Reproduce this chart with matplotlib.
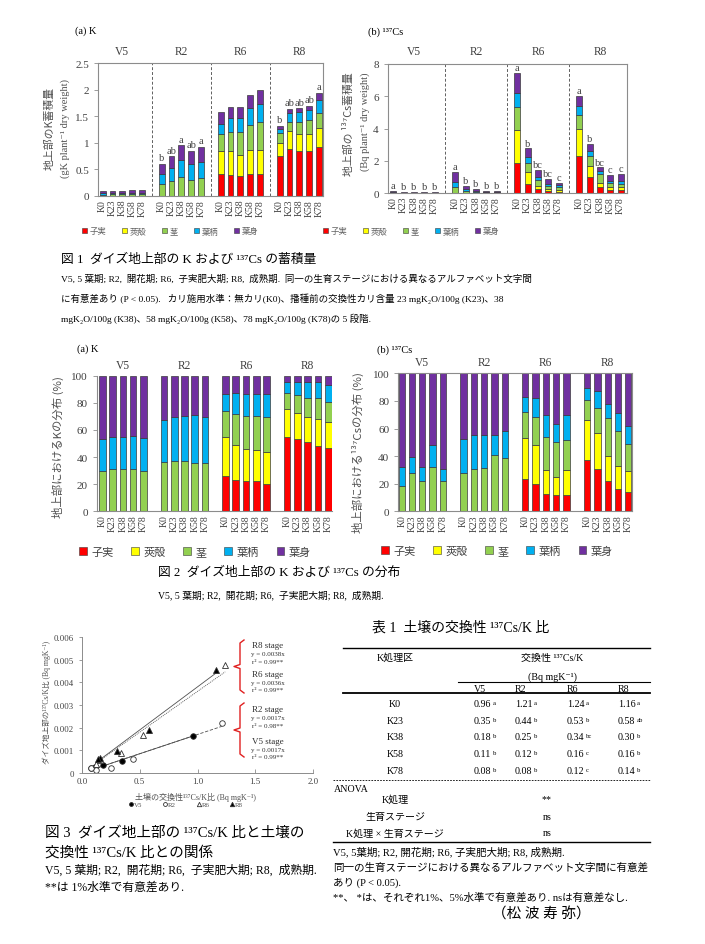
import numpy as np
import matplotlib
matplotlib.use('Agg')
import matplotlib.pyplot as plt
from matplotlib.patches import Patch
from matplotlib.lines import Line2D

SERIF = ['Liberation Serif', 'Noto Sans CJK JP', 'DejaVu Sans']
SANS = ['Noto Sans CJK JP', 'DejaVu Sans']
plt.rcParams['font.family'] = SERIF
plt.rcParams['axes.unicode_minus'] = False

# ---------------- data ----------------
stages = ['V5', 'R2', 'R6', 'R8']
treatments = ['K0', 'K23', 'K38', 'K58', 'K78']
parts = ['子実', '莢殻', '茎', '葉柄', '葉身']
part_colors = ['#FF0000', '#FFFF00', '#92D050', '#00B0F0', '#7030A0']

# Fig.1(a) K accumulation (gK plant-1), order V5(K0..K78), R2, R6, R8
k_seed    = [0, 0, 0, 0, 0,  0, 0, 0, 0, 0,  0.41, 0.40, 0.385, 0.42, 0.41,  0.75, 0.875, 0.845, 0.845, 0.925]
k_hull    = [0, 0, 0, 0, 0,  0, 0, 0, 0, 0,  0.44, 0.44, 0.395, 0.44, 0.46,  0.25, 0.34, 0.315, 0.325, 0.345]
k_stem    = [0.027, 0.032, 0.032, 0.034, 0.033,  0.23, 0.28, 0.36, 0.30, 0.34,  0.32, 0.37, 0.42, 0.48, 0.53,  0.18, 0.185, 0.225, 0.25, 0.285]
k_petiole = [0.021, 0.023, 0.023, 0.027, 0.026,  0.18, 0.25, 0.32, 0.31, 0.30,  0.19, 0.25, 0.26, 0.31, 0.32,  0.08, 0.155, 0.19, 0.205, 0.255]
k_blade   = [0.042, 0.045, 0.045, 0.049, 0.051,  0.20, 0.22, 0.27, 0.24, 0.29,  0.21, 0.21, 0.21, 0.24, 0.28,  0.06, 0.085, 0.075, 0.075, 0.13]
k_letters = ['', '', '', '', '',  'b', 'ab', 'a', 'ab', 'a',  '', '', '', '', '',  'b', 'ab', 'ab', 'ab', 'a']

# Fig.1(b) 137Cs accumulation (Bq plant-1)
cs_seed    = [0, 0, 0, 0, 0,  0, 0, 0, 0, 0,  1.84, 0.56, 0.25, 0.10, 0.08,  2.31, 0.97, 0.35, 0.19, 0.19]
cs_hull    = [0, 0, 0, 0, 0,  0, 0, 0, 0, 0,  2.06, 0.72, 0.20, 0.12, 0.11,  1.69, 0.72, 0.27, 0.16, 0.20]
cs_stem    = [0.03, 0.012, 0.012, 0.012, 0.012,  0.35, 0.14, 0.08, 0.06, 0.06,  1.41, 0.58, 0.35, 0.23, 0.16,  0.86, 0.58, 0.56, 0.27, 0.17]
cs_petiole = [0.02, 0.006, 0.006, 0.006, 0.006,  0.31, 0.11, 0.06, 0.02, 0.03,  0.89, 0.39, 0.21, 0.11, 0.12,  0.51, 0.35, 0.20, 0.14, 0.16]
cs_blade   = [0.10, 0.032, 0.032, 0.032, 0.032,  0.66, 0.20, 0.11, 0.07, 0.06,  1.24, 0.52, 0.44, 0.31, 0.15,  0.63, 0.42, 0.21, 0.34, 0.48]
cs_letters = ['a', 'b', 'b', 'b', 'b',  'a', 'b', 'b', 'b', 'b',  'a', 'b', 'bc', 'bc', 'c',  'a', 'b', 'bc', 'c', 'c']

# Fig.2(a) K distribution (%)
kp_seed    = [0, 0, 0, 0, 0,  0, 0, 0, 0, 0,  26, 23, 22, 22, 20,  55, 53.5, 51, 48.5, 47]
kp_hull    = [0, 0, 0, 0, 0,  0, 0, 0, 0, 0,  28.5, 26, 24, 23, 24,  20.5, 19, 18.5, 19.5, 19]
kp_stem    = [30, 31.5, 31.5, 31, 30,  36, 37, 37, 35.5, 35.5,  19.5, 23, 24.5, 25.5, 25.5,  11.5, 13.5, 14, 15.5, 14.5]
kp_petiole = [23.5, 23.5, 23.5, 24.5, 24,  31, 32.5, 33, 35.5, 34,  12.5, 15, 16, 16, 17,  8, 9, 11.5, 11.5, 13]
kp_blade   = [46.5, 45, 45, 44.5, 46,  33, 30.5, 30, 29, 30.5,  13.5, 13, 13.5, 13.5, 13.5,  5, 5, 5, 5, 6.5]

# Fig.2(b) 137Cs distribution (%)
csp_seed    = [0, 0, 0, 0, 0,  0, 0, 0, 0, 0,  23.5, 20, 12.5, 11.5, 11.5,  37.5, 30.5, 22, 16.5, 14]
csp_hull    = [0, 0, 0, 0, 0,  0, 0, 0, 0, 0,  29.5, 28, 17.5, 13.5, 18.5,  29, 26, 18, 16, 15.5]
csp_stem    = [18.5, 27.5, 22, 32, 22,  28, 31, 31.5, 40.5, 38.5,  19, 20, 24, 25.5, 22,  14.5, 18.5, 27.5, 25.5, 19]
csp_petiole = [13.5, 11.5, 10, 16, 9,  24.5, 24, 23.5, 15, 19.5,  11, 14, 15.5, 13, 18,  8.5, 12, 10.5, 13, 13]
csp_blade   = [68, 61, 68, 52, 69,  47.5, 45, 45, 44.5, 42,  17, 18, 30.5, 36.5, 30,  10.5, 13, 22, 29, 38.5]

# Table 1: soil exchangeable 137Cs/K (Bq mgK-1)
soil_V5 = [0.96, 0.35, 0.18, 0.11, 0.08]
soil_R2 = [1.21, 0.44, 0.25, 0.12, 0.08]
soil_R6 = [1.24, 0.53, 0.34, 0.16, 0.12]
soil_R8 = [1.16, 0.58, 0.30, 0.16, 0.14]
let_V5 = ['a', 'b', 'b', 'b', 'b']
let_R2 = ['a', 'b', 'b', 'b', 'b']
let_R6 = ['a', 'b', 'bc', 'c', 'c']
let_R8 = ['a', 'ab', 'b', 'b', 'b']
anova_terms = ['K処理', '生育ステージ', 'K処理 × 生育ステージ']
anova_sig = ['**', 'ns', 'ns']

# Fig.3: plant 137Cs/K (Bq mgK-1)
plant_V5 = [0.00162, 0.00052, 0.00034, 0.00028, 0.00020]
plant_R2 = [0.00220, 0.00060, 0.00024, 0.00013, 0.00020]
plant_R6 = [0.00476, 0.00167, 0.00087, 0.00058, 0.00040]
plant_R8 = [0.00455, 0.00189, 0.00096, 0.00065, 0.00060]
slopes = {'V5': 0.0017, 'R2': 0.0017, 'R6': 0.0036, 'R8': 0.0038}
r2 = {'V5': '0.99**', 'R2': '0.98**', 'R6': '0.99**', 'R8': '0.99**'}

# ---------------- figure ----------------
W, H = 705, 945
fig = plt.figure(figsize=(W / 100, H / 100), dpi=100)
TXT = '#404040'


def fx(x):
    return x / W


def fy(y):
    return 1 - y / H


def rect(l, t, r, b):
    return [fx(l), fy(b), (r - l) / W, (b - t) / H]


def ftext(x, y, s, size=7, ha='left', va='center', family=SERIF, **kw):
    fig.text(fx(x), fy(y), s, fontsize=size, ha=ha, va=va, family=family, **kw)


def hline(x0, x1, y, lw=0.8, ls='-', color='black'):
    fig.add_artist(Line2D([fx(x0), fx(x1)], [fy(y), fy(y)], transform=fig.transFigure,
                          lw=lw, ls=ls, color=color))


xpos = np.array([g * 6 + i for g in range(4) for i in range(5)])


def stacked(ax, series, width):
    bottom = np.zeros(len(xpos))
    for vals, c in zip(series, part_colors):
        v = np.array(vals, dtype=float)
        ax.bar(xpos, v, width, bottom=bottom, color=c, edgecolor='#3a3a3a', linewidth=0.5)
        bottom += v
    return bottom


def style_axes(ax, box=True):
    for s in ax.spines.values():
        s.set_color('#8c8c8c')
        s.set_linewidth(0.8)
    if not box:
        ax.spines['top'].set_visible(False)
        ax.spines['right'].set_visible(False)
    ax.set_xticks(xpos)
    ax.set_xticklabels(treatments * 4, rotation=90, fontsize=7, color=TXT)
    ax.tick_params(axis='x', length=0, pad=2)
    ax.tick_params(axis='y', length=3, width=0.6, color='#8c8c8c', labelsize=8, labelcolor=TXT)


def stage_labels(ax, yfrac):
    tr = ax.get_xaxis_transform()
    for g, s in enumerate(stages):
        ax.text(g * 6 + 2, yfrac, s, transform=tr, ha='center', va='center', fontsize=8.3, color=TXT)


legend_handles = [Patch(facecolor=c, edgecolor='#3a3a3a', linewidth=0.4) for c in part_colors]

# ---- Fig 1(a) ----
ax1 = fig.add_axes(rect(98.3, 64, 323.3, 197))
tot = stacked(ax1, [k_seed, k_hull, k_stem, k_petiole, k_blade], 0.6)
ax1.set_xlim(-0.44, 22.44)
ax1.set_ylim(0, 2.5)
ax1.set_yticks([0, 0.5, 1, 1.5, 2, 2.5])
ax1.set_yticklabels(['0', '0.5', '1', '1.5', '2', '2.5'])
style_axes(ax1)
for xv in [5, 11, 17]:
    ax1.axvline(xv, color='#606060', ls=(0, (3, 2)), lw=0.7)
for x, t, l in zip(xpos, tot, k_letters):
    if l:
        ax1.text(x, t + 0.03, l, ha='center', va='bottom', fontsize=7.5, color=TXT)
stage_labels(ax1, 1.09)
ftext(75, 31, '(a) K', 7.5)
ftext(50, 128, '地上部のK蓄積量', 7.8, ha='center', family=SANS, rotation=90, color='#505050')
ftext(65, 128, '(gK plant⁻¹ dry weight)', 7.5, ha='center', rotation=90, color='#505050')

# ---- Fig 1(b) ----
ax2 = fig.add_axes(rect(387.7, 65, 626.7, 194))
tot = stacked(ax2, [cs_seed, cs_hull, cs_stem, cs_petiole, cs_blade], 0.6)
ax2.set_xlim(-0.54, 22.59)
ax2.set_ylim(0, 8)
ax2.set_yticks([0, 2, 4, 6, 8])
style_axes(ax2)
for xv in [5, 11, 17]:
    ax2.axvline(xv, color='#606060', ls=(0, (3, 2)), lw=0.7)
for x, t, l in zip(xpos, tot, cs_letters):
    if l:
        ax2.text(x, t + 0.05, l, ha='center', va='bottom', fontsize=7.5, color=TXT)
stage_labels(ax2, 1.10)
ftext(368, 32, '(b) ¹³⁷Cs', 7.5)
ftext(348, 124, '地上部の ¹³⁷Cs蓄積量', 7.8, ha='center', family=SANS, rotation=90, color='#505050')
ftext(365, 122, '(Bq plant⁻¹ dry weight)', 7.5, ha='center', rotation=90, color='#505050')

# legends fig 1
for cx in [170, 411]:
    fig.legend(legend_handles, parts, loc='center', bbox_to_anchor=(fx(cx), fy(232)), ncol=5,
               frameon=False, prop={'family': SANS, 'size': 6}, handlelength=0.6, handleheight=0.6,
               handletextpad=0.3, columnspacing=1.9, labelcolor='#606060', borderaxespad=0, borderpad=0)

# Fig 1 caption
ftext(61, 260, '図 1  ダイズ地上部の K および ¹³⁷Cs の蓄積量', 9.2)
ftext(61, 279, 'V5, 5 葉期; R2,  開花期; R6,  子実肥大期; R8,  成熟期.  同一の生育ステージにおける異なるアルファベット文字間', 6.8)
ftext(61, 299, 'に有意差あり (P < 0.05).   カリ施用水準：無カリ(K0)、播種前の交換性カリ含量 23 mgK₂O/100g (K23)、38', 6.8)
ftext(61, 319, 'mgK₂O/100g (K38)、58 mgK₂O/100g (K58)、78 mgK₂O/100g (K78)の 5 段階.', 6.8)

# ---- Fig 2(a) ----
ax3 = fig.add_axes(rect(96.7, 376.7, 332, 512.3))
stacked(ax3, [kp_seed, kp_hull, kp_stem, kp_petiole, kp_blade], 0.65)
ax3.set_xlim(-0.55, 22.37)
ax3.set_ylim(0, 100)
ax3.set_yticks([0, 20, 40, 60, 80, 100])
style_axes(ax3, box=False)
stage_labels(ax3, 1.08)
ftext(77, 349, '(a) K', 7.5)
ftext(58, 447, '地上部におけるKの分布 (%)', 8.2, ha='center', family=SANS, rotation=90, color='#505050')

# ---- Fig 2(b) ----
ax4 = fig.add_axes(rect(398.3, 374.3, 631.7, 512.3))
stacked(ax4, [csp_seed, csp_hull, csp_stem, csp_petiole, csp_blade], 0.62)
ax4.set_xlim(-0.33, 22.33)
ax4.set_ylim(0, 100)
ax4.set_yticks([0, 20, 40, 60, 80, 100])
style_axes(ax4)
stage_labels(ax4, 1.08)
ftext(377, 350, '(b) ¹³⁷Cs', 7.5)
ftext(358, 453, '地上部における¹³⁷Csの分布 (%)', 8.2, ha='center', family=SANS, rotation=90, color='#505050')

for cx, cy in [(195, 553), (497, 552)]:
    fig.legend(legend_handles, parts, loc='center', bbox_to_anchor=(fx(cx), fy(cy)), ncol=5,
               frameon=False, prop={'family': SANS, 'size': 8}, handlelength=0.7, handleheight=0.7,
               handletextpad=0.4, columnspacing=1.6, labelcolor='#404040', borderaxespad=0, borderpad=0)

ftext(158, 573, '図 2  ダイズ地上部の K および ¹³⁷Cs の分布', 9.2)
ftext(158, 595, 'V5, 5 葉期; R2,  開花期; R6,  子実肥大期; R8,  成熟期.', 7)

# ---- Fig 3 ----
ax5 = fig.add_axes(rect(82, 638, 313, 774))
soil = {'V5': soil_V5, 'R2': soil_R2, 'R6': soil_R6, 'R8': soil_R8}
plant = {'V5': plant_V5, 'R2': plant_R2, 'R6': plant_R6, 'R8': plant_R8}
mk = {'V5': ('o', 'black'), 'R2': ('o', 'white'), 'R6': ('^', 'white'), 'R8': ('^', 'black')}
lstyle = {'V5': '-', 'R2': (0, (4, 2)), 'R6': (0, (1.2, 1.2)), 'R8': '-'}
handles3 = []
for s in stages:
    xs = np.array(soil[s])
    xl = np.array([xs.min(), xs.max()])
    ax5.plot(xl, slopes[s] * xl, color='#505050', lw=0.6, ls=lstyle[s])
for s in stages:
    m, fc = mk[s]
    h, = ax5.plot(soil[s], plant[s], ls='none', marker=m, ms=4 if m == 'o' else 4.5,
                  mfc=fc, mec='#303030', mew=0.6)
    handles3.append(h)
ax5.set_xlim(0, 2)
ax5.set_ylim(0, 0.006)
ax5.set_xticks([0, 0.5, 1.0, 1.5, 2.0])
ax5.set_xticklabels(['0.0', '0.5', '1.0', '1.5', '2.0'])
ax5.set_yticks([0, 0.001, 0.002, 0.003, 0.004, 0.005, 0.006])
ax5.set_yticklabels(['0', '0.001', '0.002', '0.003', '0.004', '0.005', '0.006'])
for sp in ['top', 'right']:
    ax5.spines[sp].set_visible(False)
for sp in ['left', 'bottom']:
    ax5.spines[sp].set_color('#8c8c8c')
    ax5.spines[sp].set_linewidth(0.7)
ax5.tick_params(axis='x', direction='in', length=3, width=0.6, color='#8c8c8c', labelsize=6.3, labelcolor=TXT, pad=3)
ax5.tick_params(axis='y', direction='out', length=2.5, width=0.6, color='#8c8c8c', labelsize=6.3, labelcolor=TXT)
ftext(47, 702, 'ダイズ地上部の¹³⁷Cs/K比 (Bq mgK⁻¹)', 5.5, ha='center', rotation=90, color='#505050')
ftext(195, 797, '土壌の交換性¹³⁷Cs/K比 (Bq mgK⁻¹)', 5.8, ha='center', color='#505050')
fig.legend(handles3, stages, loc='center', bbox_to_anchor=(fx(186), fy(805)), ncol=4, frameon=False,
           prop={'family': SERIF, 'size': 5}, markerscale=0.7, handlelength=0.6, handletextpad=0.1,
           columnspacing=3.0, labelcolor='#505050', borderaxespad=0, borderpad=0)


def brace(x, y0, y1):
    ym = (y0 + y1) / 2
    xs = [x + 4, x, x, x - 6, x, x, x + 4]
    ys = [y0, y0 + 3, ym - 2, ym, ym + 2, y1 - 3, y1]
    fig.add_artist(Line2D([fx(v) for v in xs], [fy(v) for v in ys], transform=fig.transFigure,
                          color='#E02020', lw=1.0))


brace(240, 641, 694)
brace(240, 704, 758)
blocks = [('R8', 646), ('R6', 675), ('R2', 710), ('V5', 742)]
for s, yy in blocks:
    ftext(268, yy, f'{s} stage', 6.5, ha='center', color='#303030')
    ftext(268, yy + 8.5, f'y = {slopes[s]}x', 5, ha='center', color='#303030')
    ftext(268, yy + 16, f'r² = {r2[s]}', 5, ha='center', color='#303030')

ftext(45, 833, '図 3  ダイズ地上部の ¹³⁷Cs/K 比と土壌の', 10.5)
ftext(45, 853, '交換性 ¹³⁷Cs/K 比との関係', 10.5)
ftext(45, 871, 'V5, 5 葉期; R2,  開花期; R6,  子実肥大期; R8,  成熟期.', 8.5)
ftext(45, 888, '**は 1%水準で有意差あり.', 8.5)

# ---- Table 1 ----
ftext(461, 628, '表 1  土壌の交換性 ¹³⁷Cs/K 比', 10, ha='center')
hline(343, 650, 649, lw=1.0)
ftext(395, 658, 'K処理区', 7.2, ha='center')
ftext(552, 658, '交換性 ¹³⁷Cs/K', 7.2, ha='center')
ftext(552, 677, '(Bq mgK⁻¹)', 7.2, ha='center')
hline(458, 650, 683, lw=0.8)
col_x = [474, 515, 567, 618]
for cx, s in zip(col_x, stages):
    ftext(cx, 689, s, 7.2)
hline(343, 650, 694, lw=1.3)
row_y = [705, 722, 738, 755, 772]
cols = [(soil_V5, let_V5), (soil_R2, let_R2), (soil_R6, let_R6), (soil_R8, let_R8)]
for i, (t, yy) in enumerate(zip(treatments, row_y)):
    ftext(395, yy, t, 7.2, ha='center')
    for cx, (vals, lets) in zip(col_x, cols):
        ftext(cx, yy, f'{vals[i]:.2f}', 7.2)
        ftext(cx + 19, yy - 1, lets[i], 4.8)
hline(333, 650, 781, lw=0.6, ls=(0, (2, 1.5)))
ftext(334, 789, 'ANOVA', 7.2)
for term, sig, yy in zip(anova_terms, anova_sig, [800, 818, 834]):
    ftext(395, yy, term, 7.2, ha='center')
    ftext(547, yy, sig, 7.2, ha='center')
hline(333, 650, 843, lw=1.0)
ftext(333, 852, 'V5, 5葉期; R2, 開花期; R6, 子実肥大期; R8, 成熟期.', 7.6)
ftext(333, 868, '同一の生育ステージにおける異なるアルファベット文字間に有意差', 7.6)
ftext(333, 883, 'あり (P < 0.05).', 7.6)
ftext(333, 898, '**、 *は、それぞれ1%、5%水準で有意差あり. nsは有意差なし.', 7.6)
ftext(541, 915, '（松 波 寿 弥）', 10.5, ha='center')

fig.savefig('out.png', dpi=100)
